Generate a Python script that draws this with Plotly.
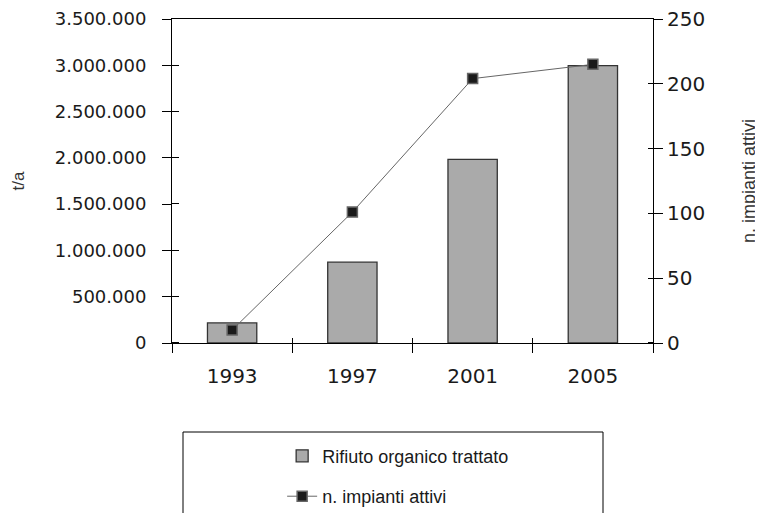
import plotly.graph_objects as go

years = ["1993", "1997", "2001", "2005"]
rifiuto = [217000, 873000, 1983000, 2997000]
impianti = [10, 101, 204, 215]

left_ticks = [0, 500000, 1000000, 1500000, 2000000, 2500000, 3000000, 3500000]
right_ticks = [0, 50, 100, 150, 200, 250]

tick_font = dict(family="DejaVu Sans", size=18, color="#1a1a1a")
tick_font_big = dict(family="DejaVu Sans", size=20, color="#1a1a1a")
label_font = dict(family="Liberation Sans", size=17, color="#333333")
label_font_r = dict(family="Liberation Sans", size=18, color="#333333")

# the page body adds an 8px offset; margins compensate for it
L, T, PW, PH = 164, 11, 481, 324

fig = go.Figure()
fig.add_trace(go.Bar(
    x=years, y=rifiuto, name="Rifiuto organico trattato",
    width=0.41,
    marker=dict(color="#aaaaaa", line=dict(color="#333333", width=1.3)),
    xaxis="x", yaxis="y", legendgroup="a",
))
fig.add_trace(go.Scatter(
    x=years, y=impianti, name="n. impianti attivi",
    mode="lines+markers",
    line=dict(color="#666666", width=1),
    marker=dict(symbol="square", size=10, color="#1a1a1a",
                line=dict(color="#666666", width=1.5)),
    xaxis="x2", yaxis="y2", legendgroup="b",
))

fig.update_layout(
    width=763, height=513,
    margin=dict(l=L, r=763 - L - PW, t=T, b=513 - T - PH, autoexpand=False),
    paper_bgcolor="white", plot_bgcolor="white",
    separators=",.",
    showlegend=True,
    legend=dict(x=0.229, y=-0.292, xanchor="left", yanchor="top",
                font=dict(family="Liberation Sans", size=18, color="#1a1a1a"),
                bgcolor="rgba(0,0,0,0)", tracegroupgap=14,
                traceorder="grouped"),
    xaxis=dict(
        type="category", categoryorder="array", categoryarray=years,
        range=[-0.5, 3.5], tickson="boundaries", automargin=False,
        ticks="outside", ticklen=9, tickcolor="black", tickwidth=1,
        showline=True, linecolor="black", linewidth=1, mirror=True,
        showgrid=False, tickfont=tick_font_big, ticklabelstandoff=15,
    ),
    xaxis2=dict(
        type="category", categoryorder="array", categoryarray=years,
        range=[-0.5, 3.5], tickson="boundaries", overlaying="x",
        ticks="inside", ticklen=5, tickcolor="black", tickwidth=1,
        showticklabels=False, showline=False, showgrid=False,
        anchor="y", side="bottom", automargin=False,
    ),
    yaxis=dict(
        range=[0, 3500000], tickmode="array", tickvals=left_ticks,
        tickformat=",d", automargin=False, ticklabeloverflow="allow",
        ticks="outside", ticklen=9, tickcolor="black", tickwidth=1,
        minor=dict(ticks="inside", ticklen=7, tickcolor="black", tickwidth=1,
                   tickmode="array", tickvals=[v + 2000 for v in left_ticks]),
        showline=True, linecolor="black", linewidth=1,
        showgrid=False, zeroline=False, tickfont=tick_font,
        ticklabelstandoff=12,
        title=dict(text="t/a", font=label_font, standoff=25),
    ),
    yaxis2=dict(
        range=[0, 250], tickmode="array", tickvals=right_ticks,
        overlaying="y", side="right", anchor="x", automargin=False,
        ticklabeloverflow="allow",
        ticks="outside", ticklen=9, tickcolor="black", tickwidth=1,
        minor=dict(ticks="inside", ticklen=5, tickcolor="black", tickwidth=1,
                   tickmode="array", tickvals=[v + 0.15 for v in right_ticks]),
        showline=True, linecolor="black", linewidth=1,
        showgrid=False, zeroline=False, tickfont=tick_font_big,
        ticklabelstandoff=0,
        title=dict(text="n. impianti attivi", font=label_font_r, standoff=38),
    ),
    shapes=[dict(type="rect", xref="paper", yref="paper",
                 x0=(183 - 172) / PW, x1=(603 - 172) / PW,
                 y0=(343 - 530) / PH, y1=(343 - 432) / PH,
                 line=dict(color="black", width=1), fillcolor="rgba(0,0,0,0)")],
)

fig.write_html("out.html")
